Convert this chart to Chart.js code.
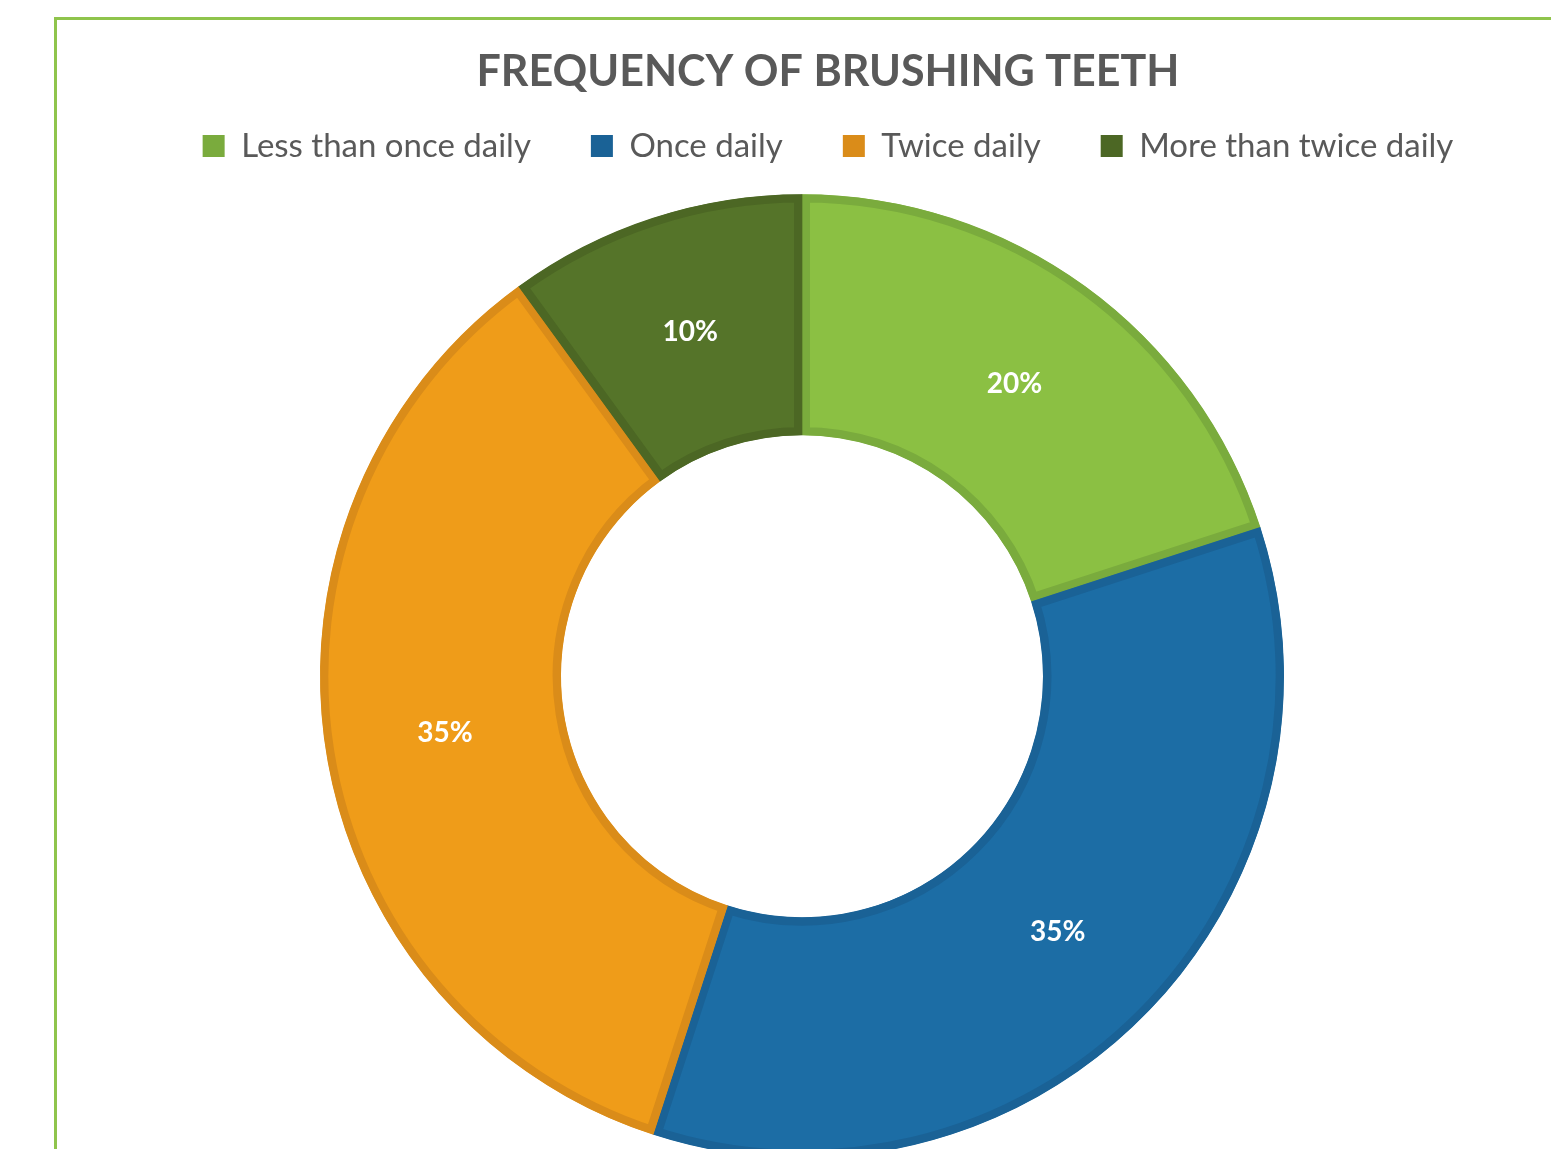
<!DOCTYPE html>
<html>
<head>
<meta charset="utf-8">
<script src="https://cdn.jsdelivr.net/npm/chart.js@4.4.0/dist/chart.umd.min.js"></script>
<style>
  html, body { margin: 0; padding: 0; background: #fff; overflow: hidden; width: 1551px; height: 1149px; }
  #frame { position: absolute; left: 54px; top: 17px; width: 1600px; height: 1300px; border-left: 3px solid #8FC44C; border-top: 3px solid #8FC44C; }
  #wrap { position: absolute; left: 0; top: 0; width: 1656px; height: 1180px; }
</style>
</head>
<body>
<div id="frame"></div>
<div id="wrap"><canvas id="brushChart"></canvas></div>
<script>
// Frequency of brushing teeth
const categories = ['Less than once daily', 'Once daily', 'Twice daily', 'More than twice daily'];
const percents = [20, 35, 35, 10];
const fillColors = ['#8BC043', '#1C6DA5', '#EF9C19', '#557429'];
const edgeColors = ['#7AAB3D', '#1A6296', '#DA8C19', '#4C6724'];

// pushes the ring a bit left of the title/legend center
const shiftRing = {
  id: 'shiftRing',
  afterLayout(chart) {
    chart.chartArea.left -= 26;
    chart.chartArea.right -= 26;
  }
};

// white percentage labels in the middle of each slice
const sliceLabels = {
  id: 'sliceLabels',
  afterDatasetsDraw(chart) {
    const ctx = chart.ctx;
    const meta = chart.getDatasetMeta(0);
    ctx.save();
    ctx.font = 'bold 28px Lato';
    ctx.fillStyle = '#ffffff';
    ctx.textAlign = 'center';
    ctx.textBaseline = 'middle';
    meta.data.forEach((arc, i) => {
      const p = arc.tooltipPosition();
      ctx.fillText(percents[i] + '%', p.x, p.y);
    });
    ctx.restore();
  }
};

new Chart(document.getElementById('brushChart'), {
  type: 'doughnut',
  data: {
    labels: categories,
    datasets: [{
      data: percents,
      backgroundColor: fillColors,
      borderColor: edgeColors,
      borderWidth: 8,
      borderAlign: 'inner',
      radius: 482,
      cutout: '50%'
    }]
  },
  plugins: [shiftRing, sliceLabels],
  options: {
    responsive: true,
    maintainAspectRatio: false,
    animation: false,
    layout: { padding: { top: 51, left: 0, right: 0, bottom: 0 } },
    plugins: {
      title: {
        display: true,
        text: 'FREQUENCY OF BRUSHING TEETH',
        color: '#595959',
        font: { family: 'Lato', size: 43, weight: 'bold', lineHeight: 1 },
        padding: { top: 0, bottom: -24.5 }
      },
      legend: {
        position: 'top',
        labels: {
          color: '#595959',
          font: { family: 'Lato', size: 33 },
          boxWidth: 22,
          boxHeight: 22,
          padding: 60,
          generateLabels(chart) {
            return categories.map((c, i) => ({
              text: c,
              fillStyle: edgeColors[i],
              strokeStyle: edgeColors[i],
              lineWidth: 0,
              fontColor: '#595959',
              index: i
            }));
          }
        }
      },
      tooltip: { enabled: false }
    }
  }
});
</script>
</body>
</html>
